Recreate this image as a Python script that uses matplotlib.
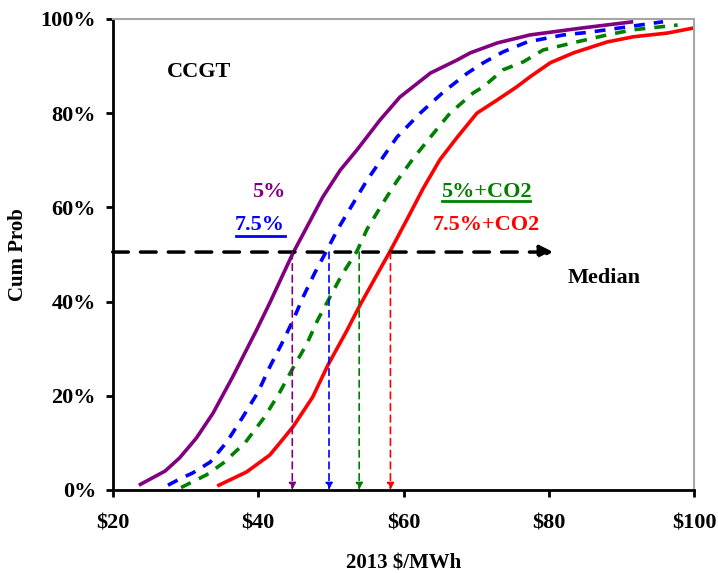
import numpy as np
import matplotlib.pyplot as plt

plt.rcParams['font.family'] = ['Liberation Serif', 'DejaVu Serif']
plt.rcParams['font.weight'] = 'bold'

# curvas ($/MWh, probabilidad acumulada %)
x_5 = [23.6, 27.2, 29.2, 31.5, 33.8, 36.5, 39.8, 41.6, 43.5, 44.8, 46.7, 48.9,
       51.3, 53.6, 56.8, 59.5, 63.7, 67.4, 69.2, 72.9, 77.4, 84.7, 91.6]
y_5 = [1.0, 4.0, 6.8, 11.0, 16.3, 24.0, 34.0, 39.7, 46.0, 50.3, 55.8, 62.2,
       67.9, 72.2, 78.6, 83.4, 88.5, 91.3, 92.8, 94.9, 96.6, 98.1, 99.4]

x_75 = [27.6, 29.2, 31.0, 33.4, 35.7, 37.9, 40.0, 41.6, 43.3, 44.8, 46.2, 47.8,
        49.5, 50.9, 53.1, 55.0, 57.2, 59.1, 62.3, 65.5, 68.8, 71.0, 73.7, 77.0,
        82.0, 85.7, 88.9, 95.7]
y_75 = [1.0, 2.3, 3.6, 5.9, 10.2, 15.5, 20.8, 26.1, 31.2, 36.0, 41.0, 46.1,
        51.0, 55.2, 60.9, 65.8, 70.7, 74.9, 80.0, 84.5, 88.5, 90.7, 93.0, 95.1,
        96.6, 97.2, 97.9, 99.4]

x_5co2 = [29.4, 32.9, 35.2, 38.2, 40.9, 43.0, 44.8, 46.7, 48.2, 49.9, 51.5, 53.6,
          55.0, 57.0, 59.1, 61.3, 63.7, 66.4, 69.6, 71.0, 73.7, 76.5, 79.2, 83.8,
          88.0, 91.6, 97.7]
y_5co2 = [0.5, 3.2, 5.7, 10.0, 15.5, 20.8, 25.9, 31.0, 36.1, 41.0, 45.6, 50.7,
          55.4, 60.5, 65.6, 70.3, 74.9, 80.0, 84.3, 85.6, 89.2, 90.9, 93.4, 95.1,
          96.6, 97.7, 98.7]

x_75co2 = [34.6, 38.4, 41.6, 43.0, 44.8, 47.5, 49.6, 52.2, 54.0, 56.1, 58.2, 60.5,
           62.7, 65.0, 67.4, 70.1, 72.9, 75.6, 77.4, 80.2, 83.4, 88.0, 91.6, 96.3, 100.0]
y_75co2 = [1.0, 3.8, 7.4, 10.0, 13.4, 19.7, 26.5, 33.8, 39.2, 45.0, 50.8, 57.5,
           64.0, 70.1, 74.9, 80.0, 82.8, 85.6, 87.7, 90.7, 92.8, 95.1, 96.2, 97.0, 98.1]

medianas = [44.7, 49.75, 53.9, 58.2]
nivel_mediana = 50.5
colores = ['#800080', '#0000ff', '#008000', '#ff0000']

fig = plt.figure(figsize=(7.18, 5.73), dpi=100)
ax = fig.add_axes([0.157, 0.145, 0.81, 0.822])

ax.plot(x_5, y_5, color=colores[0], lw=2.6, solid_capstyle='butt')
ax.plot(x_75, y_75, color=colores[1], lw=2.6, linestyle=(0, (3, 2.5)))
ax.plot(x_5co2, y_5co2, color=colores[2], lw=2.6, linestyle=(0, (3, 2.5)))
ax.plot(x_75co2, y_75co2, color=colores[3], lw=2.6)

# flecha de la mediana
ax.annotate('', xy=(80.6, nivel_mediana), xytext=(20, nivel_mediana),
            arrowprops=dict(arrowstyle='-|>', color='black', lw=2.5,
                            linestyle=(0, (4.5, 3.5)), mutation_scale=20,
                            shrinkA=0, shrinkB=0))
for m, c in zip(medianas, colores):
    ax.annotate('', xy=(m, 0), xytext=(m, nivel_mediana),
                arrowprops=dict(arrowstyle='-|>', color=c, lw=1.2,
                                linestyle=(0, (4, 3)), mutation_scale=10,
                                shrinkA=0, shrinkB=0))

fs = 16
ax.text(27.5, 88.7, 'CCGT', fontsize=fs, fontweight='bold', va='center')
ax.text(43.7, 63.3, '5%', fontsize=fs, fontweight='bold', color=colores[0],
        ha='right', va='center')
ax.text(43.7, 56.3, '7.5%', fontsize=fs, fontweight='bold', color=colores[1],
        ha='right', va='center')
ax.plot([36.9, 43.7], [53.9, 53.9], color=colores[1], lw=2)
ax.text(71.4, 63.3, '5%+CO2', fontsize=fs, fontweight='bold', color=colores[2],
        ha='center', va='center')
ax.plot([65.3, 77.4], [61.4, 61.4], color=colores[2], lw=2)
ax.text(71.4, 56.3, '7.5%+CO2', fontsize=fs, fontweight='bold', color=colores[3],
        ha='center', va='center')
ax.text(87.6, 45.0, 'Median', fontsize=fs, fontweight='bold', ha='center', va='center')

ax.set_xlim(20, 100)
ax.set_ylim(0, 100)
ax.set_xticks([20, 40, 60, 80, 100])
ax.set_xticklabels(['$20', '$40', '$60', '$80', '$100'])
ax.set_yticks([0, 20, 40, 60, 80, 100])
ax.set_yticklabels(['0%', '20%', '40%', '60%', '80%', '100%'])
ax.tick_params(direction='out', length=5, width=2, labelsize=16)
ax.tick_params(axis='x', pad=12)
ax.tick_params(axis='y', pad=7)
for lab in ax.get_xticklabels() + ax.get_yticklabels():
    lab.set_fontweight('bold')

ax.spines['left'].set_linewidth(2)
ax.spines['bottom'].set_linewidth(2)
ax.spines['top'].set_color('#a6a6a6')
ax.spines['right'].set_color('#a6a6a6')
ax.spines['top'].set_linewidth(1.5)
ax.spines['right'].set_linewidth(1.5)

ax.set_xlabel('2013 $/MWh', fontsize=15, fontweight='bold')
ax.set_ylabel('Cum Prob', fontsize=15, fontweight='bold')
ax.xaxis.set_label_coords(0.5, -0.136)
ax.yaxis.set_label_coords(-0.146, 0.5)

plt.savefig('out.png', dpi=100)
